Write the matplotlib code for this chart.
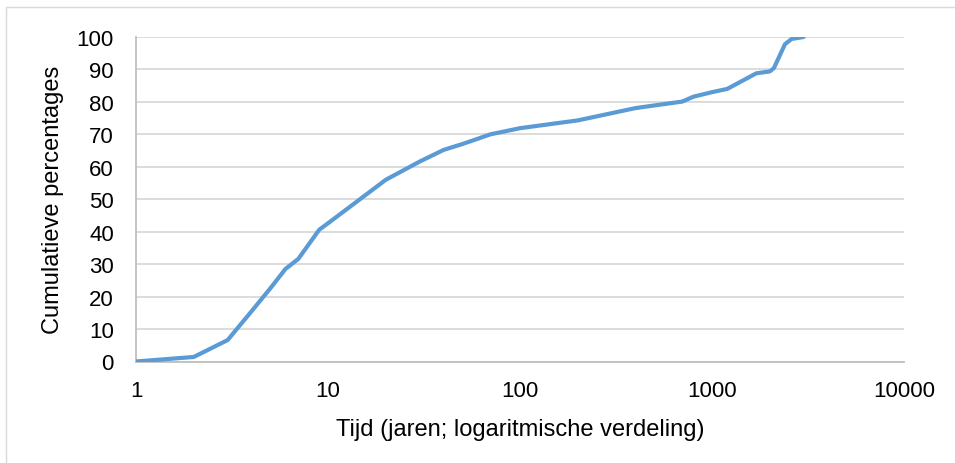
import matplotlib
matplotlib.use("Agg")
import matplotlib.pyplot as plt
from matplotlib.patches import Rectangle
from matplotlib.ticker import FixedLocator, FixedFormatter, NullLocator

plt.rcParams['font.family'] = ['Liberation Sans', 'DejaVu Sans']

years = [1, 2, 3, 4, 5, 6, 7, 9, 10, 20, 30, 40, 50, 60, 70, 80, 100,
         200, 400, 700, 800, 1000, 1200, 1700, 2000, 2100, 2400, 2600, 3000]
cum_pct = [0, 1.4, 6.6, 15.5, 22.5, 28.5, 31.6, 40.6, 42.6, 56.0, 61.6, 65.2, 67.0, 68.6, 70.0, 70.7, 71.9,
           74.3, 78.1, 80.1, 81.6, 83.0, 84.0, 88.8, 89.4, 90.4, 97.8, 99.4, 100]

x_ticks = [1, 10, 100, 1000, 10000]
x_tick_labels = ["1", "10", "100", "1000", "10000"]
y_ticks = list(range(0, 101, 10))

fig = plt.figure(figsize=(9.55, 4.64), dpi=100)
ax = fig.add_axes([136/955, 1-362.5/464, (904-136)/955, (362.5-38)/464])

# outer chart border
fig.patches.append(Rectangle((6/955, -0.1), 1.2, 1 - 8/464 + 0.1, transform=fig.transFigure,
                             fill=False, edgecolor='#D9D9D9', linewidth=1.0))

ax.plot(years, cum_pct, color='#5B9BD5', linewidth=3.0, solid_joinstyle='round', solid_capstyle='round', zorder=3)
ax.set_xscale('log')
ax.set_xlim(1, 10000)
ax.set_ylim(0, 100)
ax.xaxis.set_major_locator(FixedLocator(x_ticks))
ax.xaxis.set_major_formatter(FixedFormatter(x_tick_labels))
ax.xaxis.set_minor_locator(NullLocator())
ax.set_yticks(y_ticks)
ax.grid(axis='y', color='#D9D9D9', linewidth=1.3)
ax.set_axisbelow(True)
for s in ['top', 'right']:
    ax.spines[s].set_visible(False)
for s in ['left', 'bottom']:
    ax.spines[s].set_color('#BFBFBF')
    ax.spines[s].set_linewidth(1.3)
ax.tick_params(length=0, labelsize=16, colors='black')
ax.tick_params(axis='y', pad=16)
ax.tick_params(axis='x', pad=13)
ax.set_xlabel('Tijd (jaren; logaritmische verdeling)', fontsize=17)
ax.set_ylabel('Cumulatieve percentages', fontsize=17)
ax.xaxis.label.set_va('center')
ax.yaxis.label.set_va('center')
ax.xaxis.set_label_coords(0.5, (362.5 - 430) / 324.5)
ax.yaxis.set_label_coords((53 - 136) / 768, 0.5)

fig.savefig('out.png', dpi=100)
